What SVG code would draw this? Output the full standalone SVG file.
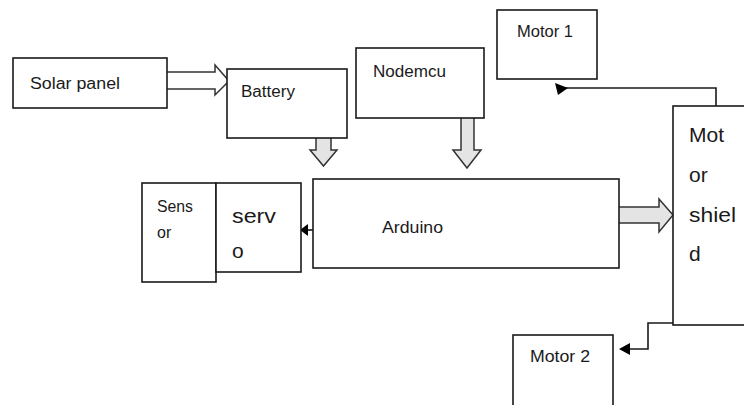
<svg xmlns="http://www.w3.org/2000/svg" width="744" height="405" viewBox="0 0 744 405">
<style>
.box{fill:#fff;stroke:#1a1a1a;stroke-width:1.6}
.blk{fill:#e4e4e4;stroke:#333;stroke-width:1.5;stroke-linejoin:miter}
.ln{fill:none;stroke:#1a1a1a;stroke-width:1.6}
.hd{fill:#000}
text{font-family:"Liberation Sans",Arial,sans-serif;fill:#1a1a1a}
.t{font-size:16px}
.big{font-size:21px}
</style>
<rect width="744" height="405" fill="#fff"/>
<g id="connectors">
<path class="blk" style="fill:#fff" d="M167,72 H215 V65 L229,81 L215,95 V89 H167"/>
<path class="blk" d="M316,138 V150 H310 L323.5,166 L337,150 H331 V138"/>
<path class="blk" d="M461,118 V150 H453 L467,168 L481,150 H474 V118"/>
<path class="blk" d="M619,207 H659 V199 L673,215 L659,232 V223 H619"/>
<path class="ln" d="M716,106 V88 H560"/>
<polygon class="hd" points="555,83 568,88 558,95"/>
<path class="ln" d="M313,230 H305"/>
<polygon class="hd" points="300,230 308,224 308,236"/>
<path class="ln" d="M673,323 H648 V349 H628"/>
<polygon class="hd" points="619,349 630,343 630,355"/>
</g>
<g id="solar"><rect class="box" x="13" y="58" width="154" height="50"/><text class="t" x="30" y="89" font-size="17" textLength="90" lengthAdjust="spacingAndGlyphs">Solar panel</text></g>
<g id="battery"><rect class="box" x="227" y="69" width="120" height="69"/><text class="t" x="241" y="97" textLength="54" lengthAdjust="spacingAndGlyphs">Battery</text></g>
<g id="nodemcu"><rect class="box" x="356" y="48" width="128" height="70"/><text class="t" x="373" y="77" textLength="73" lengthAdjust="spacingAndGlyphs">Nodemcu</text></g>
<g id="motor1"><rect class="box" x="497" y="10" width="100" height="69"/><text class="t" x="517" y="37" textLength="56" lengthAdjust="spacingAndGlyphs">Motor 1</text></g>
<g id="sensor"><rect class="box" x="142" y="183" width="74" height="99"/><text class="t" x="157" y="212" textLength="36" lengthAdjust="spacingAndGlyphs">Sens</text><text class="t" x="157" y="238">or</text></g>
<g id="servo"><rect class="box" x="216" y="183" width="85" height="89"/><text class="big" x="232" y="223" textLength="44" lengthAdjust="spacingAndGlyphs">serv</text><text class="big" x="232" y="258">o</text></g>
<g id="arduino"><rect class="box" x="313" y="179" width="306" height="89"/><text class="t" x="382" y="233" textLength="61" lengthAdjust="spacingAndGlyphs">Arduino</text></g>
<g id="shield"><rect class="box" x="673" y="106" width="80" height="219"/><text class="big" x="689" y="142" textLength="35" lengthAdjust="spacingAndGlyphs">Mot</text><text class="big" x="689" y="182">or</text><text class="big" x="689" y="222" textLength="47" lengthAdjust="spacingAndGlyphs">shiel</text><text class="big" x="689" y="261">d</text></g>
<g id="motor2"><rect class="box" x="513" y="335" width="100" height="80"/><text class="t" x="530" y="362" textLength="60" lengthAdjust="spacingAndGlyphs">Motor 2</text></g>
</svg>
